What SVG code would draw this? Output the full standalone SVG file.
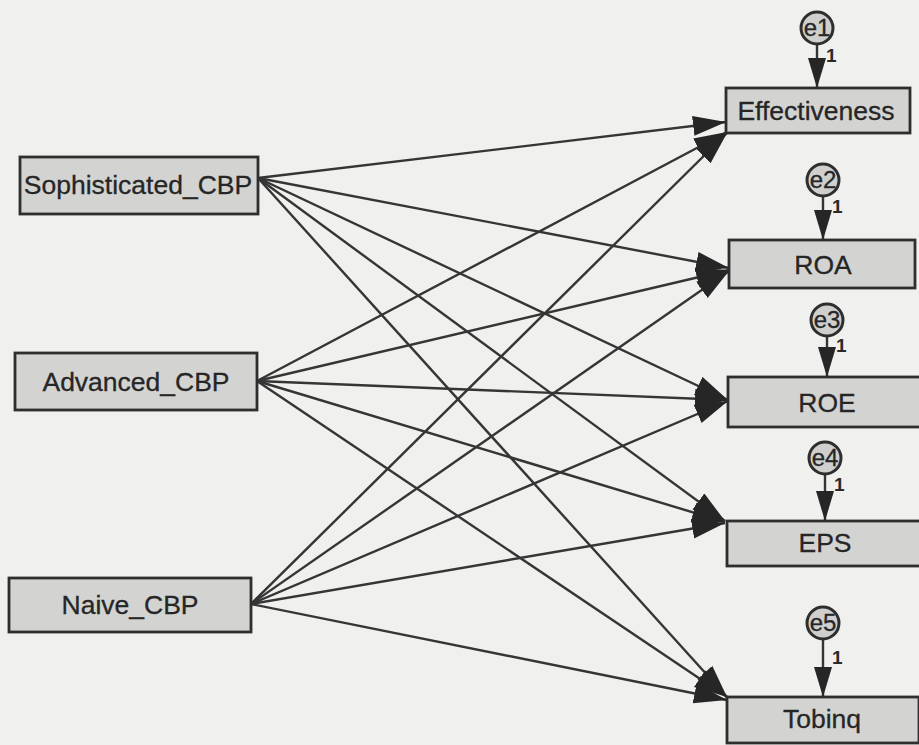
<svg xmlns="http://www.w3.org/2000/svg" width="919" height="745" viewBox="0 0 919 745">
  <style>
    .box { fill: #d3d3d1; stroke: #2e2e2e; stroke-width: 2.8; }
    .err { fill: #cfcfcd; stroke: #2e2e2e; stroke-width: 3; }
    .lbl { font-family: "Liberation Sans", Arial, sans-serif; font-size: 26.5px; fill: #262626; text-anchor: middle; stroke: #262626; stroke-width: 0.3; }
    .elbl { font-family: "Liberation Sans", Arial, sans-serif; font-size: 24px; fill: #262626; text-anchor: middle; stroke: #262626; stroke-width: 0.3; }
    .one { font-family: "Liberation Sans", Arial, sans-serif; font-size: 19px; font-weight: bold; fill: #2a2a2a; }
    .path { stroke: #353535; stroke-width: 2.4; fill: none; marker-end: url(#head); }
    .epath { stroke: #353535; stroke-width: 2.4; fill: none; marker-end: url(#ehead); }
  </style>
  <defs>
    <marker id="head" markerUnits="userSpaceOnUse" markerWidth="36" markerHeight="22" refX="33" refY="10" orient="auto">
      <path d="M0,0 L33,10 L0,20 z" fill="#262626"/>
    </marker>
    <marker id="ehead" markerUnits="userSpaceOnUse" markerWidth="34" markerHeight="20" refX="30" refY="9" orient="auto">
      <path d="M0,0 L30,9 L0,18 z" fill="#262626"/>
    </marker>
  </defs>

  <rect x="0" y="0" width="919" height="745" fill="#f0f0ee"/>

  <!-- regression paths -->
  <g id="connectors">
    <line class="path" x1="258" y1="178" x2="726" y2="122"/>
    <line class="path" x1="258" y1="178" x2="729" y2="268"/>
    <line class="path" x1="258" y1="178" x2="728" y2="400"/>
    <line class="path" x1="258" y1="178" x2="725" y2="521"/>
    <line class="path" x1="258" y1="178" x2="727" y2="697"/>

    <line class="path" x1="257" y1="381" x2="727" y2="132"/>
    <line class="path" x1="257" y1="381" x2="729" y2="270"/>
    <line class="path" x1="257" y1="381" x2="728" y2="400"/>
    <line class="path" x1="257" y1="381" x2="725" y2="522"/>
    <line class="path" x1="257" y1="381" x2="727" y2="697"/>

    <line class="path" x1="251" y1="604" x2="727" y2="133"/>
    <line class="path" x1="251" y1="604" x2="729" y2="271"/>
    <line class="path" x1="251" y1="604" x2="728" y2="401"/>
    <line class="path" x1="251" y1="604" x2="725" y2="523"/>
    <line class="path" x1="251" y1="604" x2="727" y2="700"/>

    <!-- error terms -->
    <line class="epath" x1="817" y1="44" x2="817" y2="88"/>
    <line class="epath" x1="823" y1="196" x2="823" y2="240"/>
    <line class="epath" x1="827" y1="336" x2="827" y2="377"/>
    <line class="epath" x1="825" y1="474" x2="825" y2="521"/>
    <line class="epath" x1="823" y1="639" x2="823" y2="697"/>
    <text class="one" x="826" y="62">1</text>
    <text class="one" x="832" y="213">1</text>
    <text class="one" x="836" y="352">1</text>
    <text class="one" x="834" y="491">1</text>
    <text class="one" x="832" y="664">1</text>
  </g>

  <!-- exogenous variables -->
  <g id="sophisticated">
    <rect class="box" x="20" y="157" width="238" height="57"/>
    <text class="lbl" x="138" y="194">Sophisticated_CBP</text>
  </g>
  <g id="advanced">
    <rect class="box" x="15" y="353" width="242" height="57"/>
    <text class="lbl" x="136" y="391">Advanced_CBP</text>
  </g>
  <g id="naive">
    <rect class="box" x="9" y="578" width="242" height="54"/>
    <text class="lbl" x="130" y="614">Naive_CBP</text>
  </g>

  <!-- outcome variables -->
  <g id="effectiveness">
    <rect class="box" x="726" y="88" width="184" height="45"/>
    <text class="lbl" x="816" y="120">Effectiveness</text>
  </g>
  <g id="roa">
    <rect class="box" x="729" y="240" width="186" height="48"/>
    <text class="lbl" x="823" y="274">ROA</text>
  </g>
  <g id="roe">
    <rect class="box" x="728" y="377" width="198" height="50"/>
    <text class="lbl" x="827" y="412">ROE</text>
  </g>
  <g id="eps">
    <rect class="box" x="727" y="521" width="196" height="45"/>
    <text class="lbl" x="825" y="552">EPS</text>
  </g>
  <g id="tobinq">
    <rect class="box" x="727" y="697" width="192" height="46"/>
    <text class="lbl" x="822" y="728">Tobinq</text>
  </g>

  <!-- residuals -->
  <g id="e1">
    <circle class="err" cx="817" cy="28" r="16"/>
    <text class="elbl" x="817" y="36">e1</text>
  </g>
  <g id="e2">
    <circle class="err" cx="823" cy="180" r="16"/>
    <text class="elbl" x="823" y="188">e2</text>
  </g>
  <g id="e3">
    <circle class="err" cx="827" cy="320" r="16"/>
    <text class="elbl" x="827" y="328">e3</text>
  </g>
  <g id="e4">
    <circle class="err" cx="825" cy="458" r="16"/>
    <text class="elbl" x="825" y="466">e4</text>
  </g>
  <g id="e5">
    <circle class="err" cx="823" cy="623" r="16"/>
    <text class="elbl" x="823" y="631">e5</text>
  </g>
</svg>
